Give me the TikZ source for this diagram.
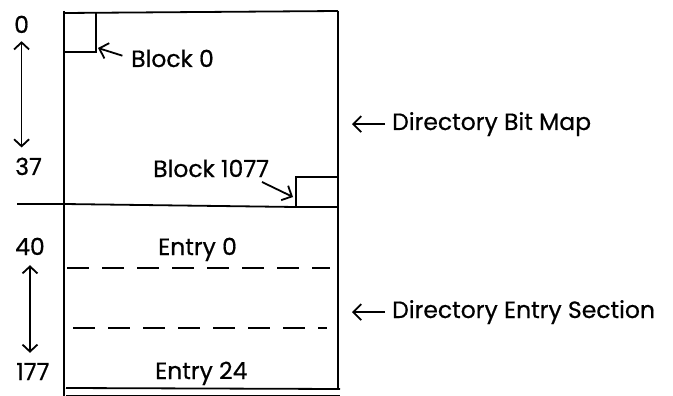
\documentclass[tikz,border=0pt]{standalone}
\usepackage{fontspec}
\newfontfamily\futfont{Poppins}[FakeBold=0.6]
\usetikzlibrary{arrows.meta}
\begin{document}
\begin{tikzpicture}[x=1pt,y=-1pt,
  ln/.style={line width=1.8pt},
  lbl/.style={inner sep=0pt, anchor=base west, font=\futfont\fontsize{23.5}{28}\selectfont},
  arr/.style={ln, -{Straight Barb[length=8pt,width=16pt]}},
  dbl/.style={ln, {Straight Barb[length=7pt,width=15pt]}-{Straight Barb[length=7pt,width=15pt]}},
  dsh/.style={ln, dash pattern=on 22pt off 13pt}]
\useasboundingbox (0,0) rectangle (673,396);
% frame
\draw[ln] (64,13) -- (338,11);
\draw[ln] (64,11) -- (64,396);
\draw[ln] (338,11) -- (338,390);
\draw[ln] (17,204) -- (64,204) -- (296,207) -- (338,207);
\draw[ln] (66,388) -- (340,389);
\draw[ln] (66,395.5) -- (340,395.5);
% block squares
\draw[ln] (64,52) -- (96,52) -- (96,13);
\draw[ln] (296,207) -- (296,177) -- (338,177);
\coordinate (b0c) at (98,48);
\coordinate (b1c) at (293,197);
% dashed lines
\draw[dsh] (67,268) -- (330,268);
\draw[dsh] (73,328) -- (327,328);
% labels
\node[lbl] (n0) at (14,33) {0};
\node[lbl] (n37) at (15,175) {37};
\node[lbl] (n40) at (15,255) {40};
\node[lbl] (n177) at (16,380) {177};
\node[lbl] (b0) at (131,67) {Block 0};
\node[lbl] (b1077) at (153,177) {Block 1077};
\node[lbl] (e0) at (158,255) {Entry 0};
\node[lbl] (e24) at (155,379) {Entry 24};
\node[lbl] (dbm) at (392,130) {Directory Bit Map};
\node[lbl] (des) at (392,318) {Directory Entry Section};
% arrows
\coordinate (b1t) at (262,182);
\draw[dbl, shorten <=8pt, shorten >=10pt] (n0.south) -- (n0.south |- n37.north);
\draw[dbl, shorten <=10pt, shorten >=10pt] (n40.south) -- (n40.south |- n177.north);
\draw[arr, shorten <=9pt] (b0.west) -- (b0c);
\draw[arr] (b1t) -- (b1c);
\coordinate (dbmtip) at (352,0 |- dbm.west);
\coordinate (destip) at (352,0 |- des.west);
\draw[arr, shorten <=7pt] (dbm.west) -- (dbmtip);
\draw[arr, shorten <=7pt] (des.west) -- (destip);
\end{tikzpicture}
\end{document}
